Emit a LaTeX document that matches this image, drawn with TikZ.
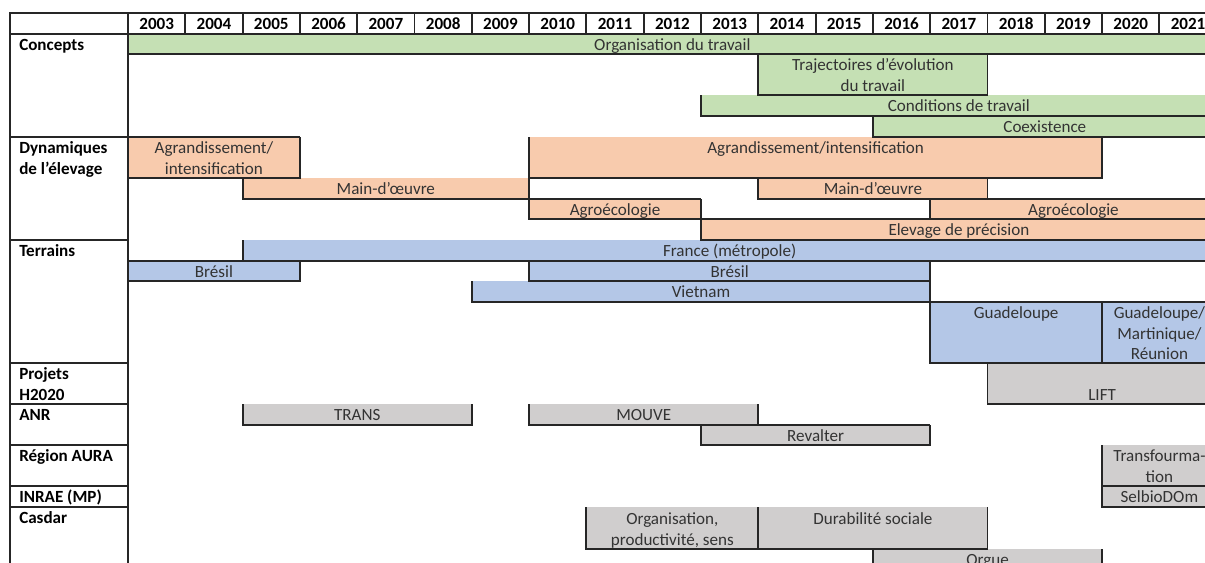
\documentclass[tikz,border=0pt]{standalone}
\usepackage{fontspec}
\setmainfont{Carlito}
\usepackage{tikz}
\usepackage{xcolor}
\pgfdeclarelayer{background}
\pgfsetlayers{background,main}

\definecolor{concept}{HTML}{C5E0B4}
\definecolor{dynam}{HTML}{F8CBAD}
\definecolor{terrain}{HTML}{B4C7E7}
\definecolor{projet}{HTML}{D0CECE}
\definecolor{rulecol}{HTML}{262626}
\definecolor{txtcol}{HTML}{333333}

\pgfmathdeclarefunction{yrx}{1}{\pgfmathparse{128+57.3*(#1-2003)}}

% bar: [baseline of last line] name, colour, first year, last year, top, bottom, text
\newcommand{\tbar}[8][12.2pt]{%
  \begin{pgfonlayer}{background}
    \node[bar, fill=#3, minimum width={57.3*(#5-#4+1)*0.75pt}, minimum height={(#7-#6)*0.75pt}] (#2) at ({yrx(#4)},#6) {};
  \end{pgfonlayer}
  \draw[rule] (#2.north west) |- (#2.south east) -- (#2.north east);
  \node[txt] (#2-t) at ([yshift=-#1]#2.north) {#8};
}

\begin{document}
\begin{tikzpicture} [x=0.75pt, y=-0.75pt,
    rule/.style = {draw=rulecol, line width=1.4pt},
    bar/.style = {anchor=north west, inner sep=0pt, outer sep=0pt},
    txt/.style = {anchor=base, align=center, inner sep=0pt, text=txtcol, font=\fontsize{12.8}{15.5}\selectfont},
    hdr/.style = {anchor=base, inner sep=0pt, font=\fontsize{12.8}{15.5}\selectfont\bfseries},
    cat/.style = {anchor=base west, align=left, inner sep=0pt, font=\fontsize{12.8}{15.5}\selectfont\bfseries}]
    \useasboundingbox (0,0) rectangle (1205,562);
    \clip (0,0) rectangle (1205,562);

    % header with the years
    \draw[rule] (10,13) rectangle ({yrx(2022)},34);
    \foreach \y in {2003,...,2021} {
        \draw[rule] ({yrx(\y)},13) -- ({yrx(\y)},34);
        \node[hdr] (h\y) at ({yrx(\y)+28.65},29.3) {\y};
    }

    % first column
    \draw[rule] (10,34) -- (10,570);
    \draw[rule] (128,34) -- (128,570);
    \foreach \r in {137,240,363,404,445,486,507}
        \draw[rule] (10,\r) -- (128,\r);

    \node[cat] (concepts) at (19,50.3) {Concepts};
    \node[cat] (dynamiques) at (19,174) {Dynamiques\\de l’élevage};
    \node[cat] (terrains) at (19,256.3) {Terrains};
    \node[cat] (h2020) at (19,400) {Projets\\H2020};
    \node[cat] (anr) at (19,420.3) {ANR};
    \node[cat] (aura) at (19,461.3) {Région AURA};
    \node[cat] (inrae) at (19,502.3) {INRAE (MP)};
    \node[cat] (casdar) at (19,523.3) {Casdar};

    % concepts
    \tbar{orga}{concept}{2003}{2021}{34}{54}{Organisation du travail}
    \tbar[27.75pt]{traj}{concept}{2014}{2017}{54}{95}{Trajectoires d’évolution\\du travail}
    \tbar{cond}{concept}{2013}{2021}{95}{116}{Conditions de travail}
    \tbar{coex}{concept}{2016}{2021}{116}{137}{Coexistence}

    % dynamiques de l'elevage
    \tbar[27.75pt]{agra}{dynam}{2003}{2005}{137}{178}{Agrandissement/\\intensification}
    \tbar{main}{dynam}{2005}{2009}{178}{199}{Main-d’œuvre}
    \tbar{agrb}{dynam}{2010}{2019}{137}{178}{Agrandissement/intensification}
    \tbar{mainb}{dynam}{2014}{2017}{178}{199}{Main-d’œuvre}
    \tbar{agro}{dynam}{2010}{2012}{199}{219}{Agroécologie}
    \tbar{agrob}{dynam}{2017}{2021}{199}{219}{Agroécologie}
    \tbar{prec}{dynam}{2013}{2021}{219}{240}{Elevage de précision}

    % terrains
    \tbar{fra}{terrain}{2005}{2021}{240}{261}{France (métropole)}
    \tbar{bre}{terrain}{2003}{2005}{261}{281}{Brésil}
    \tbar{breb}{terrain}{2010}{2016}{261}{281}{Brésil}
    \tbar{viet}{terrain}{2009}{2016}{281}{302}{Vietnam}
    \tbar{guad}{terrain}{2017}{2019}{302}{363}{Guadeloupe}
    \tbar[43.3pt]{dom}{terrain}{2020}{2021}{302}{363}{Guadeloupe/\\Martinique/\\Réunion}

    % projets
    \tbar[27.75pt]{lift}{projet}{2018}{2021}{363}{404}{LIFT}
    \tbar{trans}{projet}{2005}{2008}{404}{425}{TRANS}
    \tbar{mouve}{projet}{2010}{2013}{404}{425}{MOUVE}
    \tbar{reval}{projet}{2013}{2016}{425}{445}{Revalter}
    \tbar[27.75pt]{transf}{projet}{2020}{2021}{445}{486}{Transfourma-\\tion}
    \tbar{selbio}{projet}{2020}{2021}{486}{507}{SelbioDOm}
    \tbar[28.5pt]{ops}{projet}{2011}{2013}{507}{549}{Organisation,\\productivité, sens}
    \tbar[13pt]{dura}{projet}{2014}{2017}{507}{549}{Durabilité sociale}
    \tbar{orgue}{projet}{2016}{2019}{549}{570}{Orgue}

    % closed tops
    \foreach \b in {agra,bre,agro,agrob,prec,guad,dom,reval}
        \draw[rule] (\b.north west) -- (\b.north east);

\end{tikzpicture}
\end{document}
